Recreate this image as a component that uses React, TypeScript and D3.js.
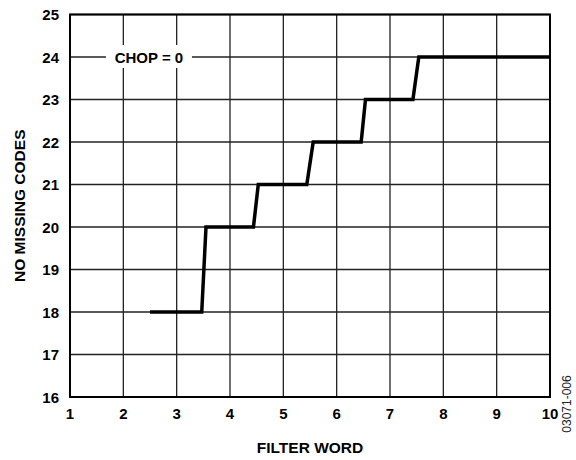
import React, { useEffect, useRef } from 'react';
import * as d3 from 'd3';

// step curve
const filterWord = [2.5, 3.47, 3.55, 4.44, 4.53, 5.44, 5.56, 6.46, 6.54, 7.43, 7.54, 10];
const missingCodes = [18, 18, 20, 20, 21, 21, 22, 22, 23, 23, 24, 24];
const xTicks = [1, 2, 3, 4, 5, 6, 7, 8, 9, 10];
const yTicks = [16, 17, 18, 19, 20, 21, 22, 23, 24, 25];

const W = 576;
const H = 460;
const margin = { top: 14.5, right: 26, bottom: 63, left: 70 };
const font = 'Liberation Sans, Arial, sans-serif';

export default function App() {
  const ref = useRef<SVGSVGElement>(null);

  useEffect(() => {
    if (!ref.current) return;
    const svg = d3.select(ref.current);
    svg.selectAll('*').remove();

    const x = d3.scaleLinear().domain([1, 10]).range([margin.left, W - margin.right]);
    const y = d3.scaleLinear().domain([16, 25]).range([H - margin.bottom, margin.top]);

    const g = svg.append('g');

    // grid
    g.selectAll('line.vx')
      .data(xTicks)
      .join('line')
      .attr('x1', d => x(d)).attr('x2', d => x(d))
      .attr('y1', y(16)).attr('y2', y(25))
      .attr('stroke', '#222').attr('stroke-width', 1.3);
    g.selectAll('line.hy')
      .data(yTicks)
      .join('line')
      .attr('y1', d => y(d)).attr('y2', d => y(d))
      .attr('x1', x(1)).attr('x2', x(10))
      .attr('stroke', '#222').attr('stroke-width', 1.3);

    // frame
    g.append('rect')
      .attr('x', x(1)).attr('y', y(25))
      .attr('width', x(10) - x(1)).attr('height', y(16) - y(25))
      .attr('fill', 'none').attr('stroke', '#000').attr('stroke-width', 2);

    // annotation box
    const cx = x(2.48);
    g.append('rect')
      .attr('x', cx - 43).attr('y', y(24) - 12)
      .attr('width', 86).attr('height', 23)
      .attr('fill', '#fff');
    g.append('text')
      .attr('x', cx).attr('y', y(24) + 5.5)
      .attr('text-anchor', 'middle')
      .attr('font-family', font).attr('font-weight', 'bold').attr('font-size', 15)
      .text('CHOP = 0');

    // step line
    const pts = filterWord.map((d, i) => [d, missingCodes[i]] as [number, number]);
    const line = d3.line<[number, number]>().x(d => x(d[0])).y(d => y(d[1]));
    g.append('path')
      .datum(pts)
      .attr('d', line)
      .attr('fill', 'none').attr('stroke', '#000').attr('stroke-width', 3.5)
      .attr('stroke-linejoin', 'miter');

    // tick labels
    g.selectAll('text.xt')
      .data(xTicks)
      .join('text')
      .attr('x', d => x(d)).attr('y', y(16) + 22)
      .attr('text-anchor', 'middle')
      .attr('font-family', font).attr('font-weight', 'bold').attr('font-size', 15)
      .text(d => d);
    g.selectAll('text.yt')
      .data(yTicks)
      .join('text')
      .attr('x', x(1) - 11).attr('y', d => y(d) + 5.5)
      .attr('text-anchor', 'end')
      .attr('font-family', font).attr('font-weight', 'bold').attr('font-size', 15)
      .text(d => d);

    // axis titles
    g.append('text')
      .attr('x', (x(1) + x(10)) / 2).attr('y', 453)
      .attr('text-anchor', 'middle')
      .attr('font-family', font).attr('font-weight', 'bold').attr('font-size', 15.5)
      .text('FILTER WORD');
    g.append('text')
      .attr('transform', `translate(25,${(y(16) + y(25)) / 2}) rotate(-90)`)
      .attr('text-anchor', 'middle')
      .attr('font-family', font).attr('font-weight', 'bold').attr('font-size', 15.5)
      .text('NO MISSING CODES');

    g.append('text')
      .attr('transform', `translate(571,404) rotate(-90)`)
      .attr('text-anchor', 'middle')
      .attr('font-family', font).attr('font-size', 12)
      .attr('fill', '#222')
      .text('03071-006');
  }, []);

  return (
    <svg
      ref={ref}
      width={W}
      height={H}
      style={{ position: 'absolute', left: 0, top: 0, background: '#fff' }}
    />
  );
}
